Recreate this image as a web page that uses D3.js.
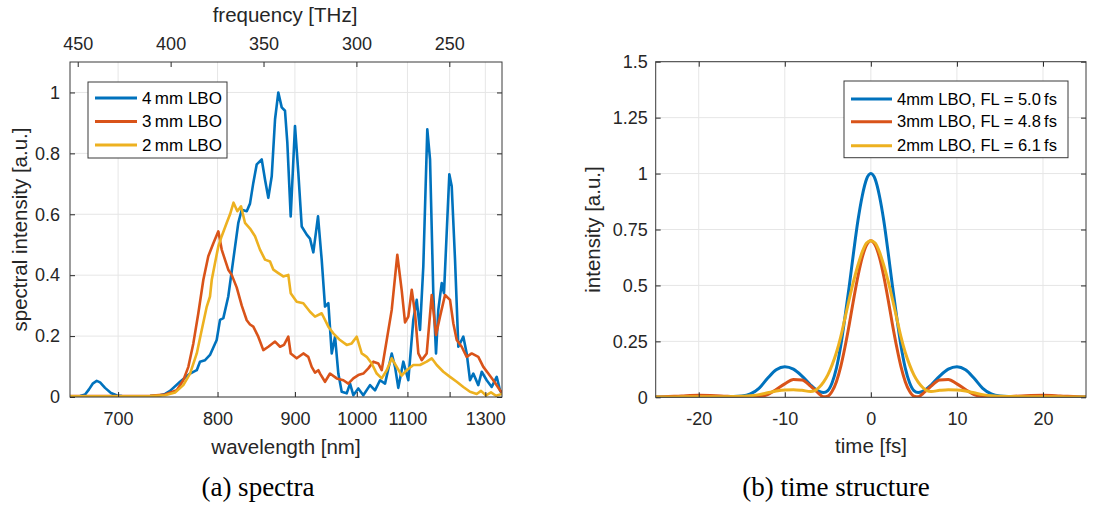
<!DOCTYPE html>
<html><head><meta charset="utf-8">
<script src="https://cdn.jsdelivr.net/npm/d3@7"></script>
<style>body{margin:0;background:#fff}svg{display:block}</style>
</head><body>
<svg id="fig" width="1102" height="508"></svg>
<script>
// ---------- data ----------
const C_NM_THZ = 299792.458;
const seriesColors = ["#0072BD", "#D95319", "#EDB120"];

// (a) spectra: [wavelength nm, intensity a.u.]
const spec4mm = [[660.1,0.002],[668.1,0.003],[672.1,0.008],[675.3,0.025],[678.6,0.045],[681.7,0.053],[684.5,0.048],[688.7,0.03],[693.8,0.013],[699.1,0.005],[703.5,0.003],[710.7,0.002],[719.8,0.002],[729.3,0.003],[738.9,0.006],[743.9,0.01],[748.9,0.02],[759.1,0.05],[769.6,0.077],[776.8,0.088],[780.3,0.116],[785.9,0.121],[791.4,0.138],[799.0,0.187],[802.8,0.253],[806.7,0.259],[812.5,0.33],[818.5,0.451],[824.6,0.572],[828.8,0.615],[835.0,0.61],[839.1,0.635],[843.3,0.703],[847.7,0.764],[854.2,0.78],[858.5,0.714],[862.9,0.654],[867.5,0.725],[872.0,0.912],[876.5,1.0],[881.2,0.951],[885.8,0.94],[889.1,0.835],[893.9,0.593],[900.1,0.89],[905.0,0.736],[910.0,0.56],[917.5,0.533],[922.5,0.52],[927.6,0.475],[934.9,0.593],[940.7,0.451],[946.0,0.297],[951.4,0.308],[956.9,0.143],[962.4,0.198],[967.9,0.077],[973.6,0.017],[982.2,0.012],[988.0,0.044],[993.8,0.006],[1002.7,0.028],[1011.8,0.006],[1024.3,0.039],[1033.8,0.022],[1043.5,0.055],[1053.4,0.044],[1066.9,0.143],[1073.7,0.099],[1080.5,0.03],[1091.1,0.116],[1101.9,0.055],[1112.9,0.253],[1120.5,0.319],[1128.0,0.22],[1135.6,0.429],[1144.9,0.879],[1151.4,0.78],[1159.2,0.341],[1165.8,0.143],[1171.4,0.286],[1179.9,0.374],[1185.6,0.341],[1199.2,0.731],[1205.4,0.692],[1214.1,0.451],[1222.9,0.165],[1236.5,0.198],[1245.8,0.143],[1255.1,0.055],[1264.5,0.077],[1279.0,0.039],[1289.1,0.083],[1304.2,0.055],[1319.6,0.033],[1335.4,0.066],[1346.1,0.022],[1352.6,0.01]];
const spec3mm = [[660.1,0.003],[701.7,0.003],[729.3,0.004],[743.9,0.008],[755.7,0.022],[762.5,0.055],[767.8,0.099],[773.1,0.176],[778.5,0.275],[784.0,0.385],[789.5,0.462],[795.2,0.505],[800.9,0.544],[804.8,0.484],[808.7,0.45],[812.5,0.418],[816.6,0.401],[822.6,0.36],[828.8,0.3],[835.0,0.252],[839.1,0.238],[843.3,0.231],[849.7,0.198],[856.3,0.154],[862.9,0.165],[872.0,0.182],[878.9,0.165],[884.4,0.171],[890.5,0.198],[893.9,0.143],[902.6,0.127],[912.4,0.143],[919.9,0.132],[925.1,0.099],[930.2,0.08],[935.4,0.088],[938.1,0.077],[946.0,0.05],[954.1,0.077],[965.2,0.061],[976.4,0.055],[985.0,0.044],[993.8,0.061],[1002.7,0.072],[1011.8,0.077],[1021.1,0.094],[1030.6,0.116],[1040.2,0.11],[1046.8,0.088],[1056.8,0.187],[1066.9,0.286],[1078.4,0.467],[1087.7,0.35],[1094.8,0.245],[1101.9,0.264],[1109.4,0.352],[1116.7,0.275],[1124.2,0.143],[1131.9,0.121],[1143.5,0.143],[1155.4,0.335],[1165.8,0.204],[1175.6,0.264],[1188.2,0.335],[1201.0,0.319],[1209.6,0.242],[1218.6,0.187],[1232.0,0.165],[1245.8,0.132],[1259.9,0.143],[1279.0,0.132],[1293.9,0.099],[1309.1,0.077],[1324.6,0.055],[1346.1,0.022],[1352.6,0.015]];
const spec2mm = [[660.1,0.002],[729.3,0.003],[743.9,0.006],[754.0,0.015],[762.5,0.039],[769.6,0.077],[776.8,0.143],[782.2,0.22],[787.8,0.297],[791.4,0.33],[793.4,0.385],[797.1,0.44],[800.9,0.495],[804.8,0.528],[810.7,0.572],[814.6,0.6],[818.8,0.638],[823.4,0.61],[827.9,0.626],[832.8,0.572],[839.1,0.553],[845.5,0.528],[851.9,0.484],[858.5,0.451],[865.2,0.445],[869.7,0.418],[876.5,0.407],[883.4,0.396],[890.5,0.401],[893.9,0.341],[902.6,0.313],[912.4,0.308],[922.5,0.28],[930.2,0.264],[940.7,0.275],[951.4,0.231],[959.5,0.209],[970.7,0.187],[982.2,0.171],[990.9,0.176],[999.8,0.198],[1008.9,0.143],[1018.1,0.132],[1027.5,0.11],[1037.1,0.077],[1046.8,0.061],[1056.8,0.088],[1066.9,0.127],[1077.2,0.099],[1087.7,0.07],[1098.4,0.088],[1112.9,0.105],[1128.0,0.105],[1143.5,0.116],[1155.4,0.127],[1167.5,0.105],[1183.9,0.083],[1201.0,0.066],[1218.6,0.05],[1236.5,0.033],[1255.1,0.017],[1274.3,0.01],[1287.0,0.02],[1302.0,0.005],[1317.4,0.015],[1333.2,0.004],[1352.6,0.01]];
const specLegend = ["4\u2009mm LBO", "3\u2009mm LBO", "2\u2009mm LBO"];
const specWlTicks = [700, 800, 900, 1000, 1100, 1200, 1300];
const specWlTickLabels = ["700", "800", "900", "1000", "1100", "", "1300"];
const specFreqTicks = [450, 400, 350, 300, 250];
const specYTicks = [0, 0.2, 0.4, 0.6, 0.8, 1];
const specWlRange = [660.1, 1352.6];

// (b) time structure
const timeFs = [-25,-24,-22,-20,-18,-16,-15,-14,-13,-12,-11,-10,-9,-8,-7,-6.5,-6,-5.5,-5,-4.5,-4,-3.5,-3,-2.5,-2,-1.5,-1,-0.5,0,0.5,1,1.5,2,2.5,3,3.5,4,4.5,5,5.5,6,6.5,7,8,9,10,11,12,13,14,15,16,18,20,22,24,25];
const time4mm = [0.001,0.001,0.001,0.002,0.003,0.004,0.006,0.015,0.04,0.085,0.123,0.137,0.126,0.095,0.055,0.038,0.026,0.021,0.03,0.065,0.13,0.23,0.36,0.5,0.65,0.79,0.9,0.975,1.0,0.975,0.9,0.79,0.65,0.5,0.36,0.23,0.13,0.065,0.03,0.021,0.026,0.038,0.055,0.095,0.126,0.137,0.123,0.085,0.04,0.015,0.006,0.004,0.003,0.002,0.001,0.001,0.001];
const time3mm = [0.001,0.002,0.006,0.009,0.007,0.003,0.001,0.001,0.003,0.012,0.035,0.06,0.08,0.077,0.05,0.032,0.015,0.002,0.005,0.027,0.07,0.137,0.226,0.328,0.438,0.541,0.625,0.68,0.7,0.68,0.625,0.541,0.438,0.328,0.226,0.137,0.07,0.027,0.005,0.002,0.015,0.032,0.05,0.077,0.08,0.06,0.035,0.012,0.003,0.001,0.001,0.003,0.007,0.009,0.006,0.002,0.001];
const time2mm = [0.001,0.001,0.002,0.003,0.003,0.004,0.005,0.007,0.012,0.02,0.028,0.033,0.034,0.031,0.026,0.03,0.045,0.068,0.1,0.145,0.2,0.27,0.355,0.44,0.52,0.59,0.65,0.69,0.7,0.69,0.65,0.59,0.52,0.44,0.355,0.27,0.2,0.145,0.1,0.068,0.045,0.03,0.026,0.031,0.034,0.033,0.028,0.02,0.012,0.007,0.005,0.004,0.003,0.003,0.002,0.001,0.001];
const timeLegend = ["4mm LBO, FL = 5.0\u2009fs", "3mm LBO, FL = 4.8\u2009fs", "2mm LBO, FL = 6.1\u2009fs"];
const timeXTicks = [-20, -10, 0, 10, 20];
const timeYTicks = [0, 0.25, 0.5, 0.75, 1, 1.25, 1.5];

// ---------- drawing ----------
const FONT = "'Liberation Sans', Arial, Helvetica, sans-serif";
const TXT = "#262626";
const GRID = "#e6e6e6";
const svg = d3.select("#fig");
svg.append("rect").attr("width", 1102).attr("height", 508).attr("fill", "#fff");

function styleAxis(g, size) {
  g.selectAll("path.domain").remove();
  g.selectAll("line").attr("stroke", TXT);
  g.selectAll("text").attr("fill", TXT).style("font-family", FONT).style("font-size", size + "px");
}

function panel(o) {
  const {x, y, L, R, T, B, id} = o;
  const g = svg.append("g");
  o.xGrid.forEach(v => g.append("line").attr("x1", x(v)).attr("x2", x(v)).attr("y1", T).attr("y2", B).attr("stroke", GRID).attr("stroke-width", 1));
  o.yGrid.forEach(v => g.append("line").attr("x1", L).attr("x2", R).attr("y1", y(v)).attr("y2", y(v)).attr("stroke", GRID).attr("stroke-width", 1));
  svg.append("clipPath").attr("id", id).append("rect").attr("x", L).attr("y", T).attr("width", R - L).attr("height", B - T);
  const lines = g.append("g").attr("clip-path", `url(#${id})`);
  o.series.forEach((s, i) => {
    lines.append("path").datum(s).attr("fill", "none").attr("stroke", seriesColors[i])
      .attr("stroke-width", o.lw).attr("stroke-linejoin", "round").attr("stroke-linecap", "round")
      .attr("d", d3.line().x(d => x(d[0])).y(d => y(d[1])).curve(o.curve));
  });
  const bt = g.append("g").attr("transform", `translate(0,${B})`)
    .call(d3.axisBottom(x).tickValues(o.xTicks).tickFormat(o.xFmt).tickSize(-5).tickPadding(15));
  styleAxis(bt, 18);
  const lt = g.append("g").attr("transform", `translate(${L},0)`)
    .call(d3.axisLeft(y).tickValues(o.yTicks).tickFormat(o.yFmt).tickSize(-5).tickPadding(o.yPad));
  styleAxis(lt, 18);
  const rt = g.append("g").attr("transform", `translate(${R},0)`)
    .call(d3.axisRight(y).tickValues(o.yTicks).tickFormat("").tickSize(-5));
  styleAxis(rt, 18);
  if (o.topScale) {
    const tp = g.append("g").attr("transform", `translate(0,${T})`)
      .call(d3.axisTop(o.topScale).tickValues(o.topTicks).tickFormat(d => String(d)).tickSize(-5).tickPadding(12));
    styleAxis(tp, 18);
  } else {
    const tp = g.append("g").attr("transform", `translate(0,${T})`)
      .call(d3.axisTop(x).tickValues(o.xTicks).tickFormat("").tickSize(-5));
    styleAxis(tp, 18);
  }
  g.append("rect").attr("x", L).attr("y", T).attr("width", R - L).attr("height", B - T)
    .attr("fill", "none").attr("stroke", "#3a3a3a").attr("stroke-width", 1);
  const lg = g.append("g");
  const lgd = o.legend;
  lg.append("rect").attr("x", lgd.x0).attr("y", lgd.y0).attr("width", lgd.x1 - lgd.x0).attr("height", lgd.y1 - lgd.y0)
    .attr("fill", "#fff").attr("stroke", "#3a3a3a").attr("stroke-width", 1);
  lgd.labels.forEach((t, i) => {
    const yy = lgd.rows[i];
    lg.append("line").attr("x1", lgd.lx0).attr("x2", lgd.lx1).attr("y1", yy).attr("y2", yy)
      .attr("stroke", seriesColors[i]).attr("stroke-width", 3);
    lg.append("text").attr("x", lgd.tx).attr("y", yy).attr("dy", "0.35em").text(t)
      .attr("fill", "#000").style("font-family", FONT).style("font-size", lgd.fs + "px");
  });
  return g;
}

function label(txt, x, y, size, rot, family) {
  const t = svg.append("text").attr("text-anchor", "middle").attr("fill", TXT)
    .style("font-family", family || FONT).style("font-size", size + "px").text(txt);
  if (rot) t.attr("transform", `translate(${x},${y}) rotate(-90)`);
  else t.attr("x", x).attr("y", y);
  return t;
}

// panel (a): x is linear in frequency (1/wavelength)
const xWl = d3.scalePow().exponent(-1).domain(specWlRange).range([70, 502]);
const xFreq = d3.scaleLinear().domain(specWlRange.map(w => C_NM_THZ / w)).range([70, 502]);
const yA = d3.scaleLinear().domain([0, 1.1]).range([397, 62]);
panel({
  id: "clipA", x: xWl, y: yA, L: 70, R: 502, T: 62, B: 397,
  xGrid: specWlTicks, yGrid: specYTicks,
  series: [spec4mm, spec3mm, spec2mm], lw: 2.6, curve: d3.curveLinear,
  xTicks: specWlTicks, xFmt: (d, i) => specWlTickLabels[i],
  yTicks: specYTicks, yFmt: d => String(d), yPad: 10,
  topScale: xFreq, topTicks: specFreqTicks,
  legend: {x0: 88, x1: 227, y0: 82, y1: 158, lx0: 95, lx1: 137, tx: 142, rows: [98, 121.5, 145], labels: specLegend, fs: 17}
});
label("frequency [THz]", 285, 22, 20.5);
label("wavelength [nm]", 286, 454, 20.5);
label("spectral intensity [a.u.]", 27, 229.5, 20.5, true);
label("(a) spectra", 258, 496, 27, false, "'Liberation Serif', 'Times New Roman', serif").attr("fill", "#000");

// panel (b)
const xT = d3.scaleLinear().domain([-25, 25]).range([655.7, 1086]);
const yB = d3.scaleLinear().domain([0, 1.5]).range([397.3, 61.7]);
const toPairs = arr => timeFs.map((t, i) => [t, arr[i]]);
panel({
  id: "clipB", x: xT, y: yB, L: 655.7, R: 1086, T: 61.7, B: 397.3,
  xGrid: timeXTicks, yGrid: timeYTicks,
  series: [toPairs(time4mm), toPairs(time3mm), toPairs(time2mm)], lw: 3, curve: d3.curveMonotoneX,
  xTicks: timeXTicks, xFmt: d => String(d),
  yTicks: timeYTicks, yFmt: d => String(d), yPad: 8,
  legend: {x0: 844, x1: 1068, y0: 81, y1: 157.7, lx0: 851, lx1: 892, tx: 897, rows: [99, 121.7, 145.7], labels: timeLegend, fs: 16.5}
});
label("time [fs]", 871, 453, 20.5);
label("intensity [a.u.]", 600, 229.5, 20.5, true);
label("(b) time structure", 836, 496, 27, false, "'Liberation Serif', 'Times New Roman', serif").attr("fill", "#000");
</script>
</body></html>
